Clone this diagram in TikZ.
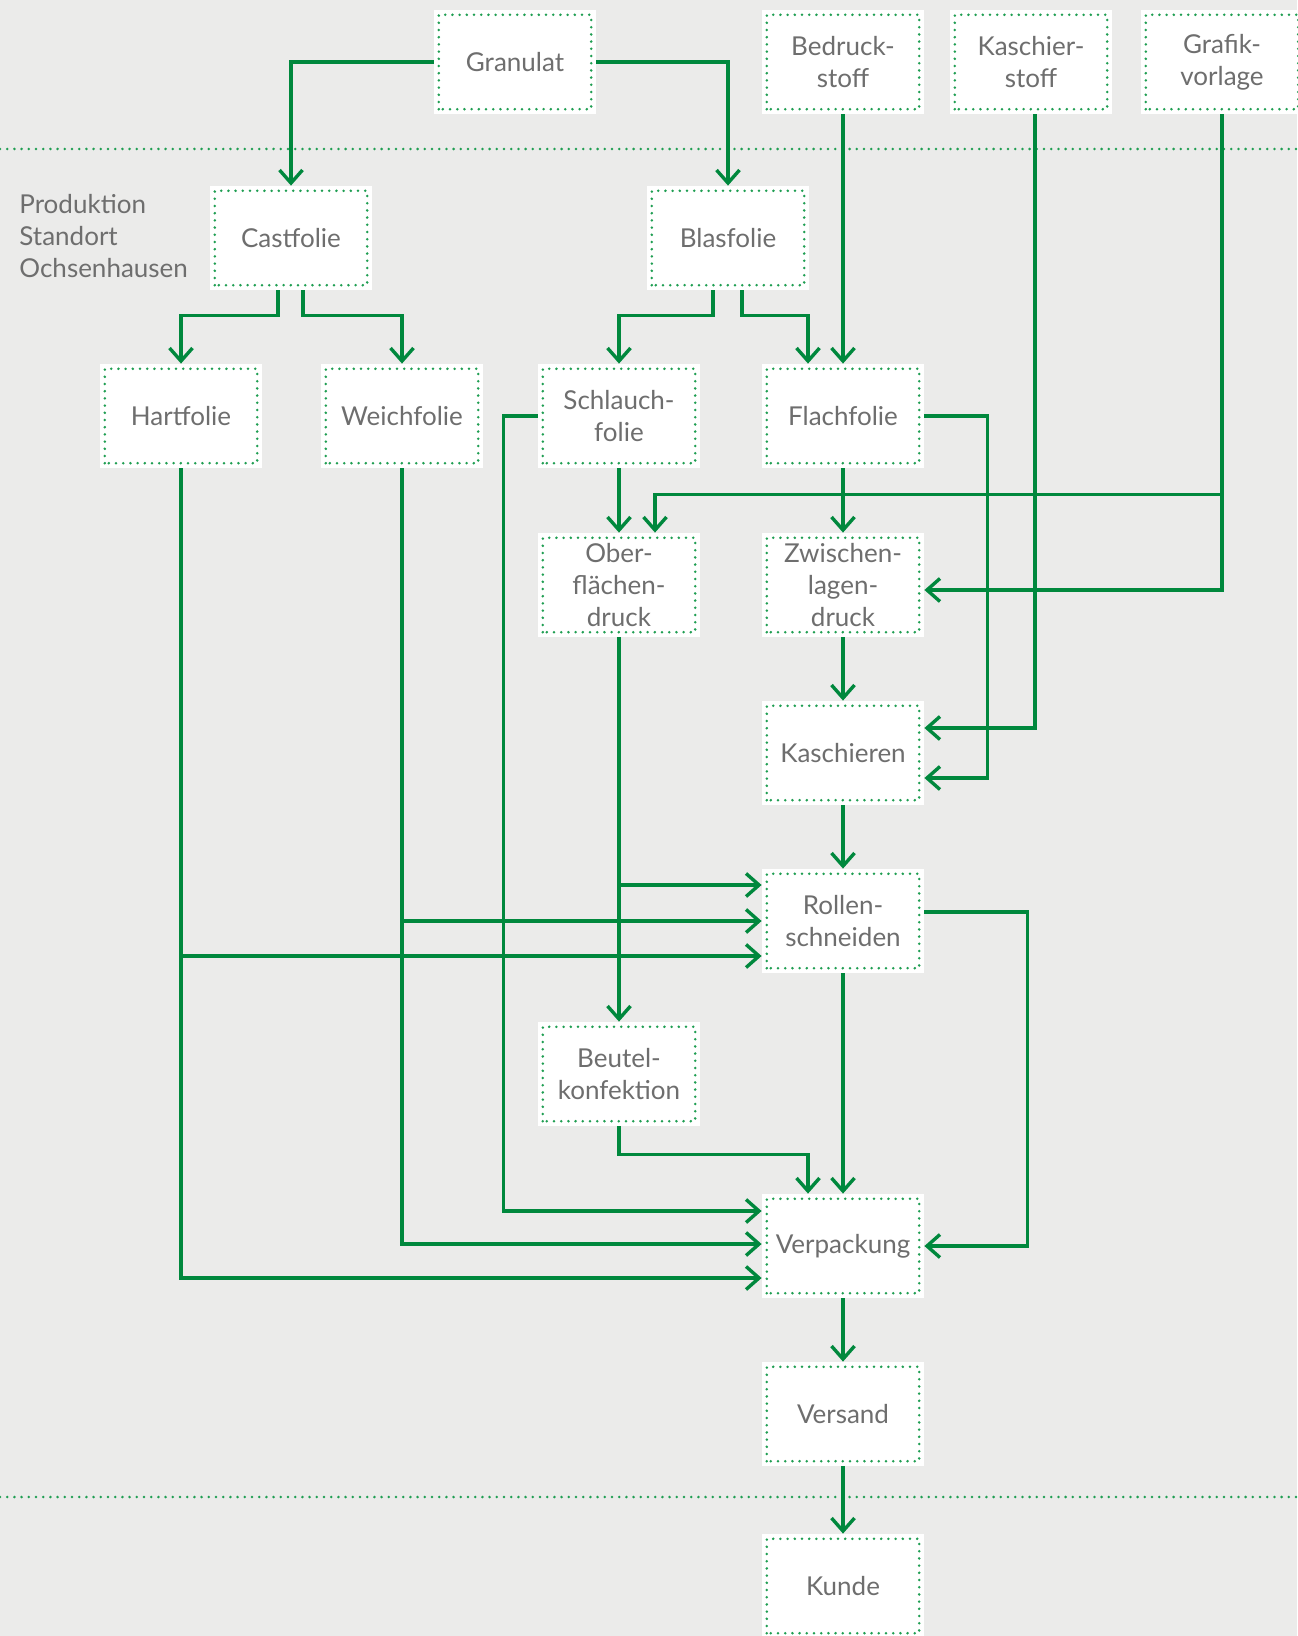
\documentclass[tikz,border=0pt]{standalone}
\usepackage{fontspec}
\setmainfont{Lato}
\usepackage{tikz}
\usetikzlibrary{arrows.meta,calc}
\definecolor{grn}{HTML}{00883D}
\definecolor{dotgrn}{HTML}{1F9E52}
\definecolor{concrete}{HTML}{EBEBEA}
\definecolor{ink}{HTML}{6E6E6E}
\tikzset{
  dots/.style={draw=dotgrn,line width=1.4pt,line cap=round,dash pattern=on 0pt off 3.6pt},
  box/.style={fill=white,minimum width=81pt,minimum height=52pt,inner sep=0pt,align=center,text=ink,font=\fontsize{13}{16}\selectfont,
    path picture={\draw[dots] ([shift={(2.4pt,2.4pt)}]path picture bounding box.south west) rectangle ([shift={(-2.4pt,-2.4pt)}]path picture bounding box.north east);}},
  arr/.style={-{Straight Barb[length=6.5pt,width=11.5pt]},line width=1.7pt,draw=grn},
  lbl/.style={font=\fontsize{13}{16}\selectfont,text=ink,align=left,inner sep=0pt},
}
\begin{document}
\begin{tikzpicture}[x=0.5pt,y=-0.5pt]
\fill[concrete] (0,0) rectangle (1297,1636);
\useasboundingbox (0,0) rectangle (1297,1636);
\draw[dots] (0,149) -- (1297,149);
\draw[dots] (0,1497) -- (1297,1497);
\node[lbl,anchor=west] (site) at (19,236) {Produktion\\Standort\\Ochsenhausen};
% raw materials
\node[box] (gran) at (515,62) {Granulat};
\node[box] (bedr) at (843,62) {Bedruck-\\stoff};
\node[box] (kstoff) at (1031,62) {Kaschier-\\stoff};
\node[box] (grafik) at (1222,62) {Grafik-\\vorlage};
% production
\node[box] (cast) at (291,238) {Castfolie};
\node[box] (blas) at (728,238) {Blasfolie};
\node[box] (hart) at (181,416) {Hartfolie};
\node[box] (weich) at (402,416) {Weichfolie};
\node[box] (schl) at (619,416) {Schlauch-\\folie};
\node[box] (flach) at (843,416) {Flachfolie};
\node[box] (ober) at (619,585) {Ober-\\flächen-\\druck};
\node[box] (zwisch) at (843,585) {Zwischen-\\lagen-\\druck};
\node[box] (kasch) at (843,753) {Kaschieren};
\node[box] (rollen) at (843,921) {Rollen-\\schneiden};
\node[box] (beutel) at (619,1074) {Beutel-\\konfektion};
\node[box] (verp) at (843,1246) {Verpackung};
\node[box] (versand) at (843,1414) {Versand};
\node[box] (kunde) at (843,1586) {Kunde};
\coordinate (gbr) at ($(grafik.south)+(0,380)$);
\coordinate (rw1) at ($(rollen.west)+(0,-36)$);
\coordinate (rw3) at ($(rollen.west)+(0,35)$);
% connectors
\draw[arr] (gran.west) -| (cast.north);
\draw[arr] (gran.east) -| (blas.north);
\draw[arr] (bedr.south) -- (flach.north);
\draw[arr] ($(cast.south)+(-13,0)$) -- ++(0,25) -| (hart.north);
\draw[arr] ($(cast.south)+(12,0)$) -- ++(0,25) -| (weich.north);
\draw[arr] ($(blas.south)+(-15,0)$) -- ++(0,25) -| (schl.north);
\draw[arr] ($(blas.south)+(14,0)$) -- ++(0,25) -| ($(flach.north)+(-35,0)$);
\draw[arr] (schl.south) -- (ober.north);
\draw[arr] (flach.south) -- (zwisch.north);
\draw[arr] (grafik.south) |- ($(zwisch.east)+(0,5)$);
\draw[arr] (gbr) -| ($(ober.north)+(36,0)$);
\draw[arr] (flach.east) -- ++(63,0) |- ($(kasch.east)+(0,25)$);
\draw[arr] ($(kstoff.south)+(4,0)$) |- ($(kasch.east)+(0,-25)$);
\draw[arr] (zwisch.south) -- (kasch.north);
\draw[arr] (kasch.south) -- (rollen.north);
\draw[arr] (ober.south) -- (beutel.north);
\draw[arr] (ober.south |- rw1) -- (rw1);
\draw[arr] (weich.south) |- ($(verp.west)+(0,-2)$);
\draw[arr] (weich.south |- rollen.west) -- (rollen.west);
\draw[arr] (hart.south) |- ($(verp.west)+(0,32)$);
\draw[arr] (hart.south |- rw3) -- (rw3);
\draw[arr] (schl.west) -- ++(-34,0) |- ($(verp.west)+(0,-35)$);
\draw[arr] ($(rollen.east)+(0,-9)$) -- ++(103,0) |- (verp.east);
\draw[arr] (rollen.south) -- (verp.north);
\draw[arr] (beutel.south) -- ++(0,28) -| ($(verp.north)+(-35,0)$);
\draw[arr] (verp.south) -- (versand.north);
\draw[arr] (versand.south) -- (kunde.north);
\end{tikzpicture}
\end{document}
